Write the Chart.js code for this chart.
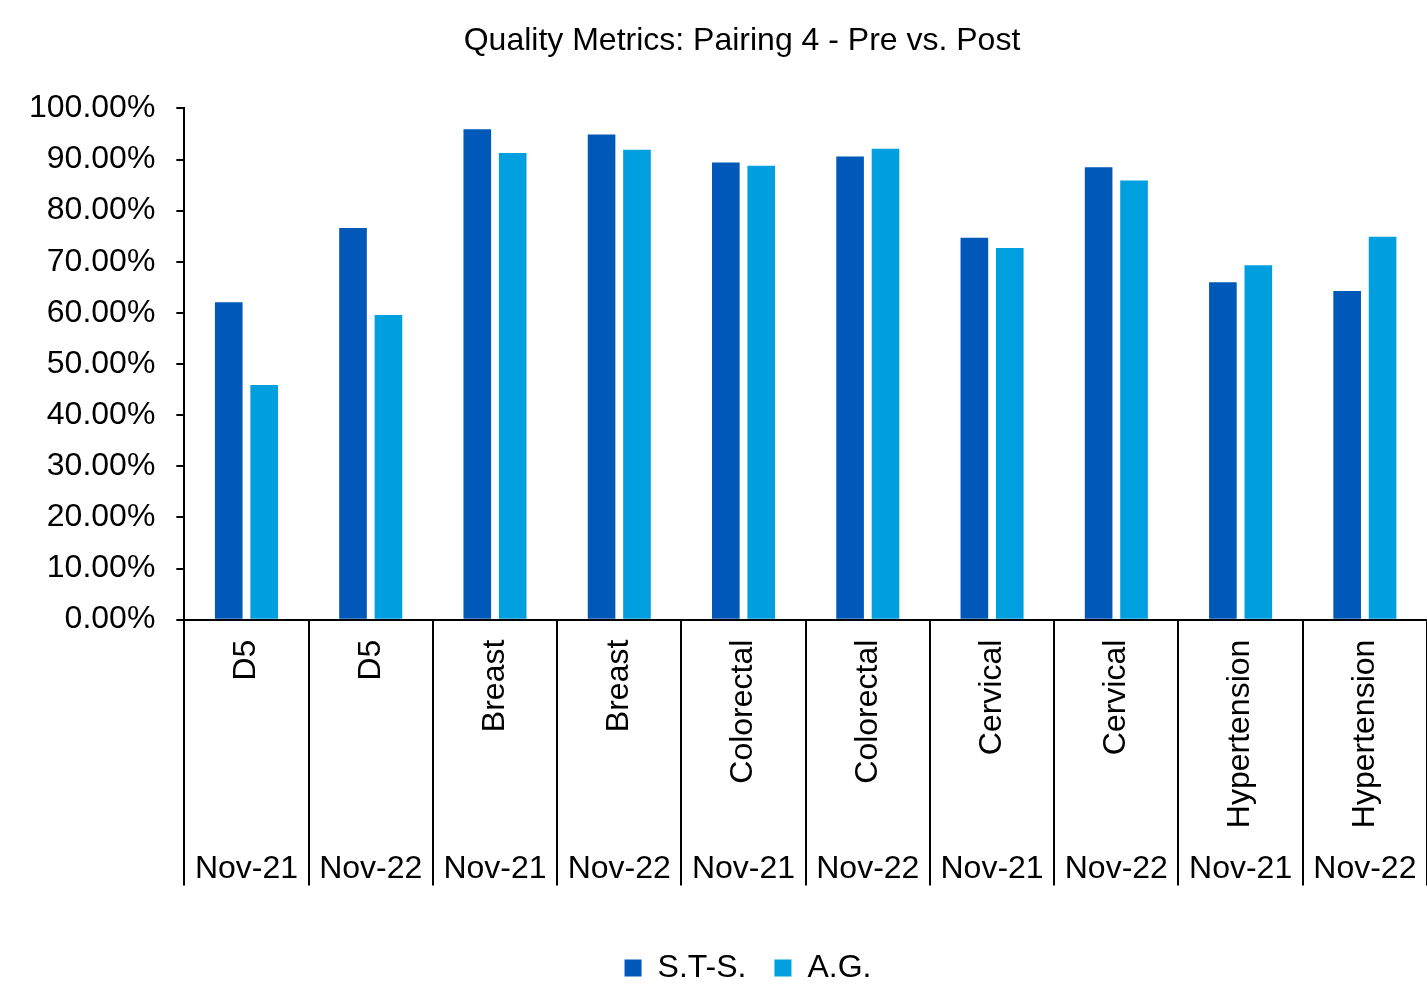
<!DOCTYPE html>
<html>
<head>
<meta charset="utf-8">
<script src="https://cdn.jsdelivr.net/npm/chart.js@4"></script>
<style>
  html, body { margin: 0; padding: 0; background: #fff; }
  #wrap { width: 1427px; height: 985px; }
</style>
</head>
<body>
<div id="wrap"><canvas id="myChart"></canvas></div>
<script>
const measures = ['D5', 'D5', 'Breast', 'Breast', 'Colorectal', 'Colorectal', 'Cervical', 'Cervical', 'Hypertension', 'Hypertension'];
const periods = ['Nov-21', 'Nov-22', 'Nov-21', 'Nov-22', 'Nov-21', 'Nov-22', 'Nov-21', 'Nov-22', 'Nov-21', 'Nov-22'];
const stsValues = [62.1, 76.6, 95.9, 94.9, 89.4, 90.6, 74.7, 88.5, 66.0, 64.3];
const agValues = [45.9, 59.6, 91.3, 91.9, 88.8, 92.1, 72.7, 85.9, 69.3, 74.9];

const font = { family: '"Liberation Sans", Arial, sans-serif', size: 32 };

// vertical separators running through both label rows under the x axis
const separators = {
    id: 'separators',
    afterLayout(chart) {
        // title and legend sit a little right of the page centre
        chart.titleBlock.left += 40;
        chart.legend.left += 52;
    },
    afterDraw(chart) {
        const x = chart.scales.x;
        const x2 = chart.scales.x2;
        const c = chart.ctx;
        c.save();
        c.strokeStyle = '#000';
        c.lineWidth = 2;
        for (let i = 0; i <= measures.length; i++) {
            const px = Math.round(x.getPixelForValue(i - 0.5));
            c.beginPath();
            c.moveTo(px, x.top);
            c.lineTo(px, x2.bottom);
            c.stroke();
        }
        c.restore();
    }
};

const ctx = document.getElementById('myChart');

new Chart(ctx, {
    type: 'bar',
    data: {
        labels: measures,
        datasets: [{
            label: 'S.T-S.',
            data: stsValues,
            backgroundColor: '#0058B8'
        }, {
            label: 'A.G.',
            data: agValues,
            backgroundColor: '#009FDF'
        }]
    },
    options: {
        responsive: true,
        maintainAspectRatio: false,
        animation: false,
        categoryPercentage: 0.57,
        barPercentage: 0.78,
        layout: {
            padding: { left: 8, right: -9, top: 0, bottom: -9 }
        },
        plugins: {
            title: {
                display: true,
                text: 'Quality Metrics: Pairing 4 - Pre vs. Post',
                color: '#000',
                font: { ...font, weight: 'normal' },
                padding: { top: 22, bottom: 48 }
            },
            legend: {
                position: 'bottom',
                // empty title just adds space above the legend items
                title: { display: true, text: '', padding: 0, font: { size: 32 } },
                labels: {
                    color: '#000',
                    font: font,
                    boxWidth: 17,
                    boxHeight: 17,
                    padding: 28
                }
            },
            tooltip: { enabled: false }
        },
        scales: {
            x: {
                offset: true,
                grid: { display: true, drawOnChartArea: false, drawTicks: false },
                border: { color: '#000', width: 2 },
                ticks: {
                    color: '#000',
                    font: font,
                    minRotation: 90,
                    maxRotation: 90,
                    autoSkip: false,
                    padding: 20
                }
            },
            x2: {
                type: 'category',
                position: 'bottom',
                labels: periods,
                offset: true,
                afterFit(scale) { scale.height -= 5; },
                grid: { display: false, drawTicks: false },
                border: { display: false },
                ticks: {
                    color: '#000',
                    font: font,
                    maxRotation: 0,
                    autoSkip: false,
                    padding: 2
                }
            },
            y: {
                min: 0,
                max: 100,
                ticks: {
                    stepSize: 10,
                    color: '#000',
                    font: font,
                    padding: 21,
                    callback: (v) => v.toFixed(2) + '%'
                },
                grid: { drawOnChartArea: false, tickLength: 8, color: '#000', lineWidth: 2 },
                border: { color: '#000', width: 2 }
            }
        }
    },
    plugins: [separators]
});
</script>
</body>
</html>
